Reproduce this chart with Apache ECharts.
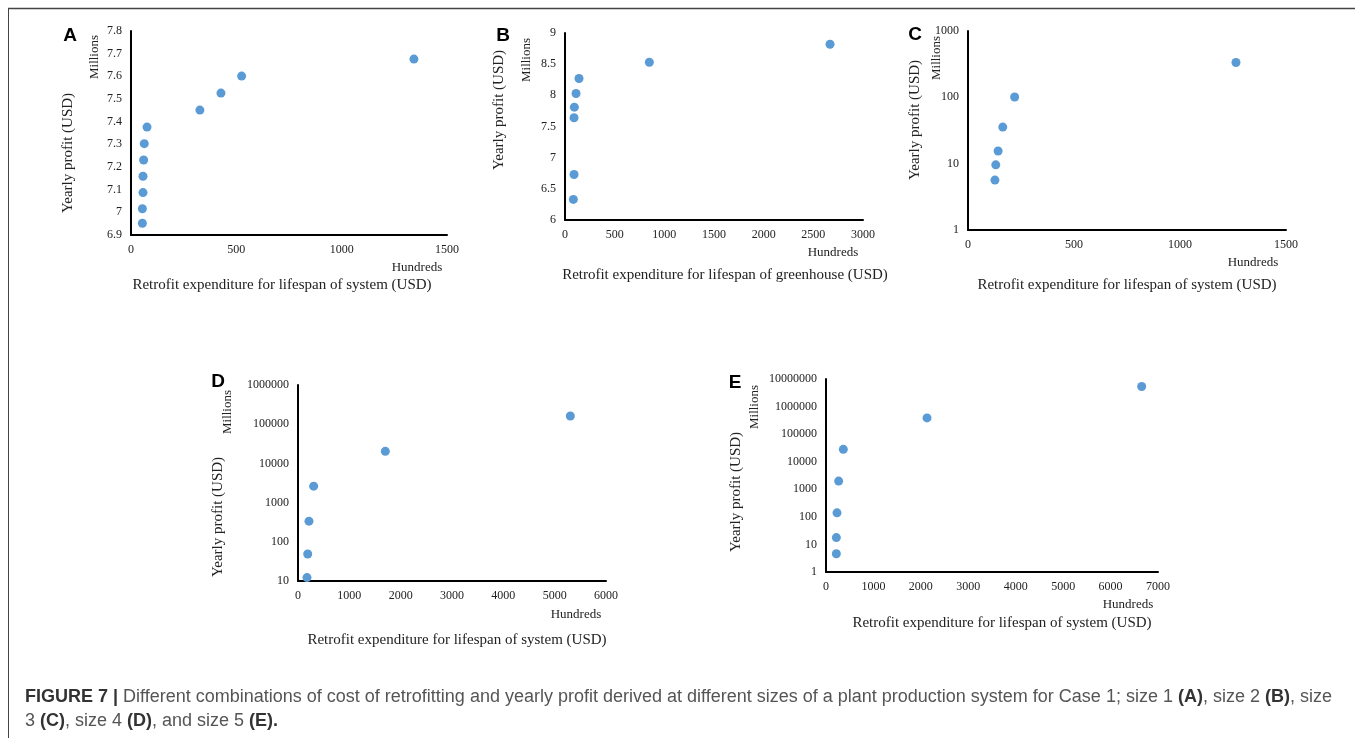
<!DOCTYPE html>
<html><head><meta charset="utf-8">
<script src="https://cdn.jsdelivr.net/npm/echarts@6/dist/echarts.min.js"></script>
<style>html,body{margin:0;padding:0;background:#fff}#c{width:1355px;height:738px}</style>
</head><body><div id="c"></div>
<script>
// Panel A (size 1)
const aX = [1343, 525, 427, 327, 76, 63, 60, 57, 57, 54, 54];
const aY = [7.676, 7.601, 7.526, 7.451, 7.376, 7.303, 7.231, 7.159, 7.087, 7.016, 6.952];
// Panel B (size 2)
const bX = [2668, 849, 141, 111, 94, 91, 91, 84];
const bY = [8.82, 8.53, 8.27, 8.03, 7.81, 7.64, 6.73, 6.33];
// Panel C (size 3)
const cX = [1264, 220, 164, 142, 131, 127];
const cY = [335, 101, 35.6, 15.5, 9.6, 5.66];
// Panel D (size 4)
const dX = [5305, 1701, 305, 214, 189, 175];
const dY = [162000, 20300, 2630, 336, 49, 12.2];
// Panel E (size 5)
const eX = [6656, 2130, 365, 267, 232, 218, 218];
const eY = [5330000, 387000, 28100, 1980, 140, 17.7, 4.6];

const panelLetters = ['A','B','C','D','E'];
const xTitles = [
  'Retrofit expenditure for lifespan of system (USD)',
  'Retrofit expenditure for lifespan of greenhouse (USD)',
  'Retrofit expenditure for lifespan of system (USD)',
  'Retrofit expenditure for lifespan of system (USD)',
  'Retrofit expenditure for lifespan of system (USD)'
];
const yTitle = 'Yearly profit (USD)';
const yUnit = 'Millions';
const xUnit = 'Hundreds';
const captionBold = 'FIGURE 7 | ';
const captionLine1 = 'Different combinations of cost of retrofitting and yearly profit derived at different sizes of a plant production system for Case 1; size 1 ';
const xRanges = [[0,1500,500],[0,3000,500],[0,1500,500],[0,6000,1000],[0,7000,1000]];
const yRanges = [[6.9,7.8,0.1,'value'],[6,9,0.5,'value'],[1,1000,null,'log'],[10,1000000,null,'log'],[1,10000000,null,'log']];

const grids = [
  {left:131, top:31, width:316, height:204},
  {left:565, top:33, width:298, height:187},
  {left:968, top:31, width:318, height:199},
  {left:298, top:385, width:308, height:196},
  {left:826, top:379, width:332, height:193}
];
const serif = 'Liberation Serif';
const xs = [aX,bX,cX,dX,eX], ys = [aY,bY,cY,dY,eY];

const xAxis = [], yAxis = [], series = [];
for (let i=0;i<5;i++){
  xAxis.push({gridIndex:i, type:'value', min:xRanges[i][0], max:xRanges[i][1], interval:xRanges[i][2],
    axisLine:{show:true, onZero:false, lineStyle:{color:'#000', width:2}}, axisTick:{show:false}, splitLine:{show:false},
    axisLabel:{color:'#222', fontFamily:serif, fontSize:12, margin:9, formatter: v => String(Math.round(v))}});
  const yr = yRanges[i];
  const ya = {gridIndex:i, type:yr[3], min:yr[0], max:yr[1],
    axisLine:{show:true, onZero:false, lineStyle:{color:'#000', width:2}}, axisTick:{show:false}, splitLine:{show:false},
    axisLabel:{color:'#222', fontFamily:serif, fontSize:12, margin:9}};
  if (yr[3]==='value'){ ya.interval = yr[2]; ya.axisLabel.formatter = v => String(+v.toFixed(2)); }
  else { ya.logBase = 10; ya.axisLabel.formatter = v => String(Math.round(v)); }
  yAxis.push(ya);
  series.push({type:'scatter', xAxisIndex:i, yAxisIndex:i, symbolSize:9,
    itemStyle:{color:'#5B9BD5', opacity:1}, data: xs[i].map((x,k)=>[x, ys[i][k]])});
}

const txt = (x,y,text,opts={}) => ({type:'text', x, y, rotation:opts.rot||0,
  style:{text, fill:opts.fill||'#222', font:opts.font||('14px '+serif), align:opts.align||'center', verticalAlign:'middle'}});
const letterPos = [[70,36],[503,36],[915,35],[218,382],[735,383]];
const millionsPos = [[95,57],[527,60],[937,58],[228,412],[755,407]];
const ytitlePos = [[68,153],[499,110],[915,120],[218,517],[736,492]];
const hundredsPos = [[417,268],[833,253],[1253,263],[576,615],[1128,605]];
const xtitlePos = [[282,285],[725,275],[1127,285],[457,640],[1002,623]];
const graphic = [];
for (let i=0;i<5;i++){
  graphic.push(txt(letterPos[i][0], letterPos[i][1], panelLetters[i], {font:'bold 19px Liberation Sans', fill:'#000'}));
  graphic.push(txt(millionsPos[i][0], millionsPos[i][1], yUnit, {rot:Math.PI/2, font:'13px '+serif}));
  graphic.push(txt(ytitlePos[i][0], ytitlePos[i][1], yTitle, {rot:Math.PI/2, font:'15px '+serif}));
  graphic.push(txt(hundredsPos[i][0], hundredsPos[i][1], xUnit, {font:'13px '+serif}));
  graphic.push(txt(xtitlePos[i][0], xtitlePos[i][1], xTitles[i], {font:'15px '+serif}));
}
graphic.push({type:'line', shape:{x1:8,y1:8.5,x2:1355,y2:8.5}, style:{stroke:'#444', lineWidth:1.5}});
graphic.push({type:'line', shape:{x1:8.5,y1:8,x2:8.5,y2:738}, style:{stroke:'#444', lineWidth:1}});
const rich = {b:{font:'bold 18px Liberation Sans', fill:'#333'}, n:{font:'18px Liberation Sans', fill:'#555'}};
graphic.push({type:'text', x:25, y:697, style:{rich,
  text:'{b|'+captionBold+'}{n|'+captionLine1+'}{b|(A)}{n|, size 2 }{b|(B)}{n|, size}', verticalAlign:'middle', align:'left'}});
graphic.push({type:'text', x:25, y:721, style:{rich,
  text:'{n|3 }{b|(C)}{n|, size 4 }{b|(D)}{n|, and size 5 }{b|(E).}', verticalAlign:'middle', align:'left'}});

const chart = echarts.init(document.getElementById('c'), null, {renderer:'canvas'});
chart.setOption({animation:false, grid:grids, xAxis, yAxis, series, graphic});
</script></body></html>
